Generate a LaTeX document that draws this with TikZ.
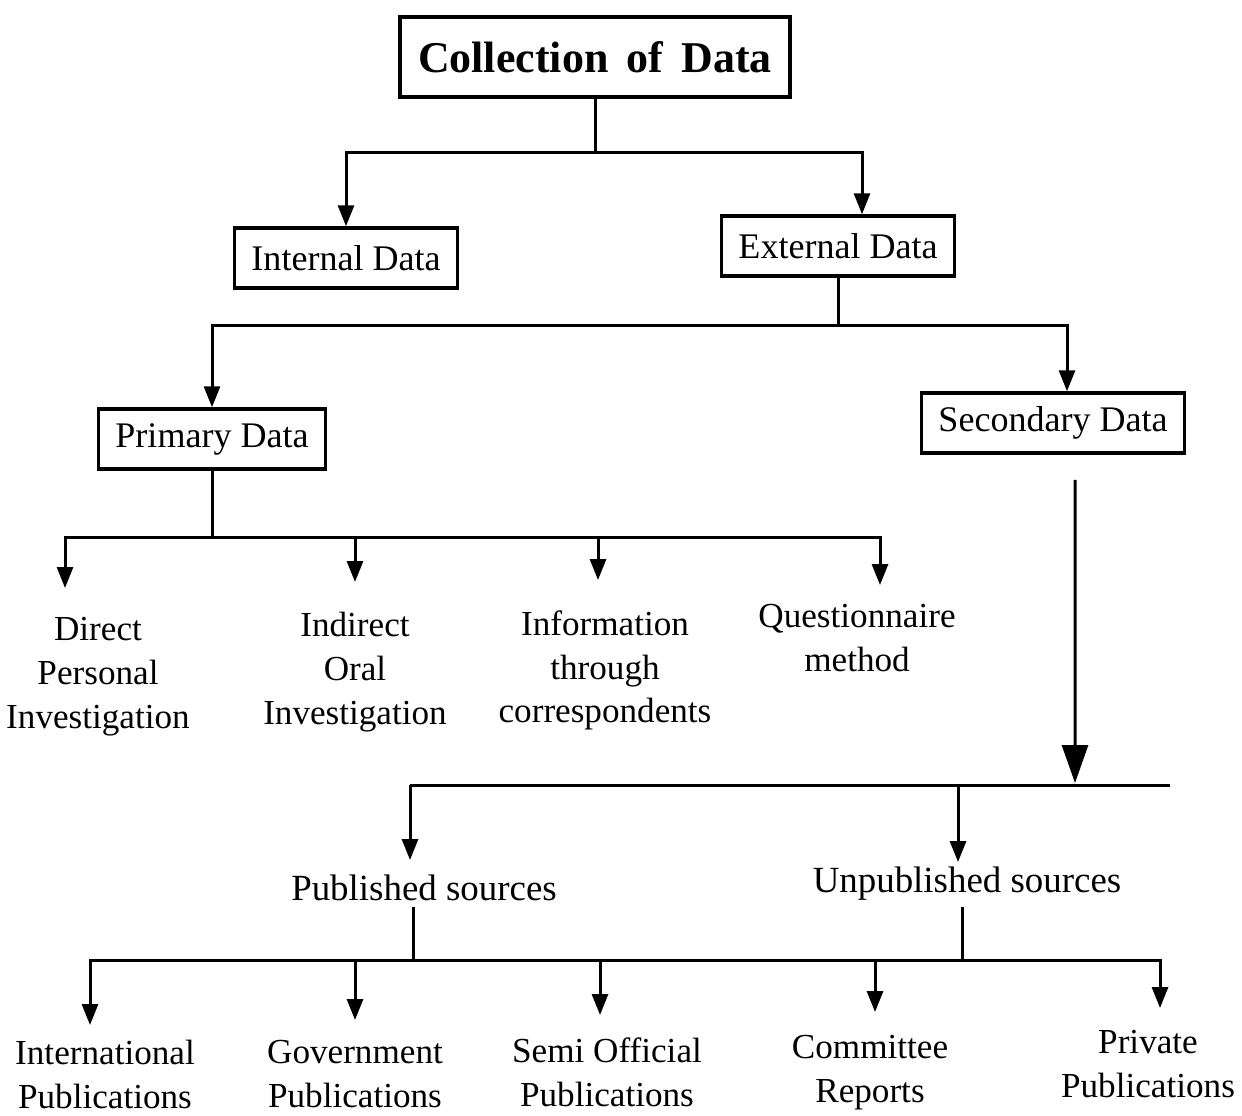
\documentclass[tikz,border=0pt]{standalone}
\usepackage{fontspec}
\setmainfont{Liberation Serif}
\usetikzlibrary{arrows.meta}
\tikzset{
	databox/.style={draw, line width=0.7mm, font=\fontsize{20.5}{25}\selectfont, minimum height=1.2cm, inner xsep=3.4mm},
	leaf/.style={font=\fontsize{20}{25}\selectfont, align=center, anchor=north, inner sep=1mm},
	branch/.style={line width=0.6mm},
	arr/.style={line width=0.6mm, -{Triangle[length=4.2mm,width=3.2mm]}},
	bigarr/.style={line width=0.6mm, -{Triangle[length=7.6mm,width=5.2mm]}}
}

\begin{document}
\begin{tikzpicture}[x=0.2mm, y=-0.2mm]
	\useasboundingbox (0,0) rectangle (1242,1115);
	
	\node[databox, font=\fontsize{25}{30}\selectfont\bfseries, minimum height=1.6cm, inner xsep=3.6mm] (coll) at (595,57) {Collection\, of\, Data};
	\node[databox] (int) at (346,258) {Internal Data};
	\node[databox] (ext) at (838,246) {External Data};
	\node[databox] (prim) at (212,439) {Primary Data};
	\node[databox] (sec) at (1053,423) {Secondary Data};
	
	\node[leaf] (d1) at (98,612) {Direct\\Personal\\Investigation};
	\node[leaf] (d2) at (355,607) {Indirect\\Oral\\Investigation};
	\node[leaf] (d3) at (605,605) {Information\\through\\correspondents};
	\node[leaf] (d4) at (857,599) {Questionnaire\\method};
	
	\node[font=\fontsize{21}{25}\selectfont] (pub) at (424,888) {Published sources};
	\node[font=\fontsize{21}{25}\selectfont] (unpub) at (967,884) {Unpublished sources};
	
	\node[leaf] (b1) at (105,1035) {International\\Publications};
	\node[leaf] (b2) at (355,1035) {Government\\Publications};
	\node[leaf] (b3) at (607,1032) {Semi Official\\Publications};
	\node[leaf] (b4) at (870,1030) {Committee\\Reports};
	\node[leaf] (b5) at (1148,1025) {Private\\Publications};
	
	\coordinate (cj) at (595,152);
	\draw[branch] (coll.south) -- (cj);
	\draw[arr] (cj) -| (int.north);
	\draw[arr] (cj) -| ([xshift=4.8mm]ext.north);
	
	\coordinate (ej) at (838,325);
	\draw[branch] (ext.south) -- (ej);
	\draw[arr] (ej) -| (prim.north);
	\draw[arr] (ej) -| ([xshift=2.8mm]sec.north);
	
	\coordinate (pj) at (212,537);
	\coordinate (t1) at (65,588);
	\coordinate (t2) at (355,582);
	\coordinate (t3) at (598,580);
	\coordinate (t4) at (880,585);
	\draw[branch] (prim.south) -- (pj);
	\foreach \t in {t1,t2,t3,t4}
		\draw[arr] (pj) -| (\t);
	
	\coordinate (sj) at (1075,783);
	\coordinate (se) at (1170,785);
	\coordinate (u1) at (410,860);
	\coordinate (u2) at (958,862);
	\draw[bigarr, shorten <=5mm] ([xshift=4.4mm]sec.south) -- (sj);
	\draw[branch] (u1 |- se) -- (se);
	\draw[arr] (u1 |- se) -- (u1);
	\draw[arr] (u2 |- se) -- (u2);
	
	\coordinate (bj) at (413,960);
	\coordinate (uj) at (962,960);
	\coordinate (s1) at (90,1025);
	\coordinate (s2) at (355,1020);
	\coordinate (s3) at (600,1015);
	\coordinate (s4) at (875,1012);
	\coordinate (s5) at (1160,1008);
	\draw[branch] (pub.south -| bj) -- (bj);
	\draw[branch] (unpub.south -| uj) -- (uj);
	\foreach \s in {s1,s2,s3,s4,s5}
		\draw[arr] (bj) -| (\s);
	
\end{tikzpicture}
\end{document}
